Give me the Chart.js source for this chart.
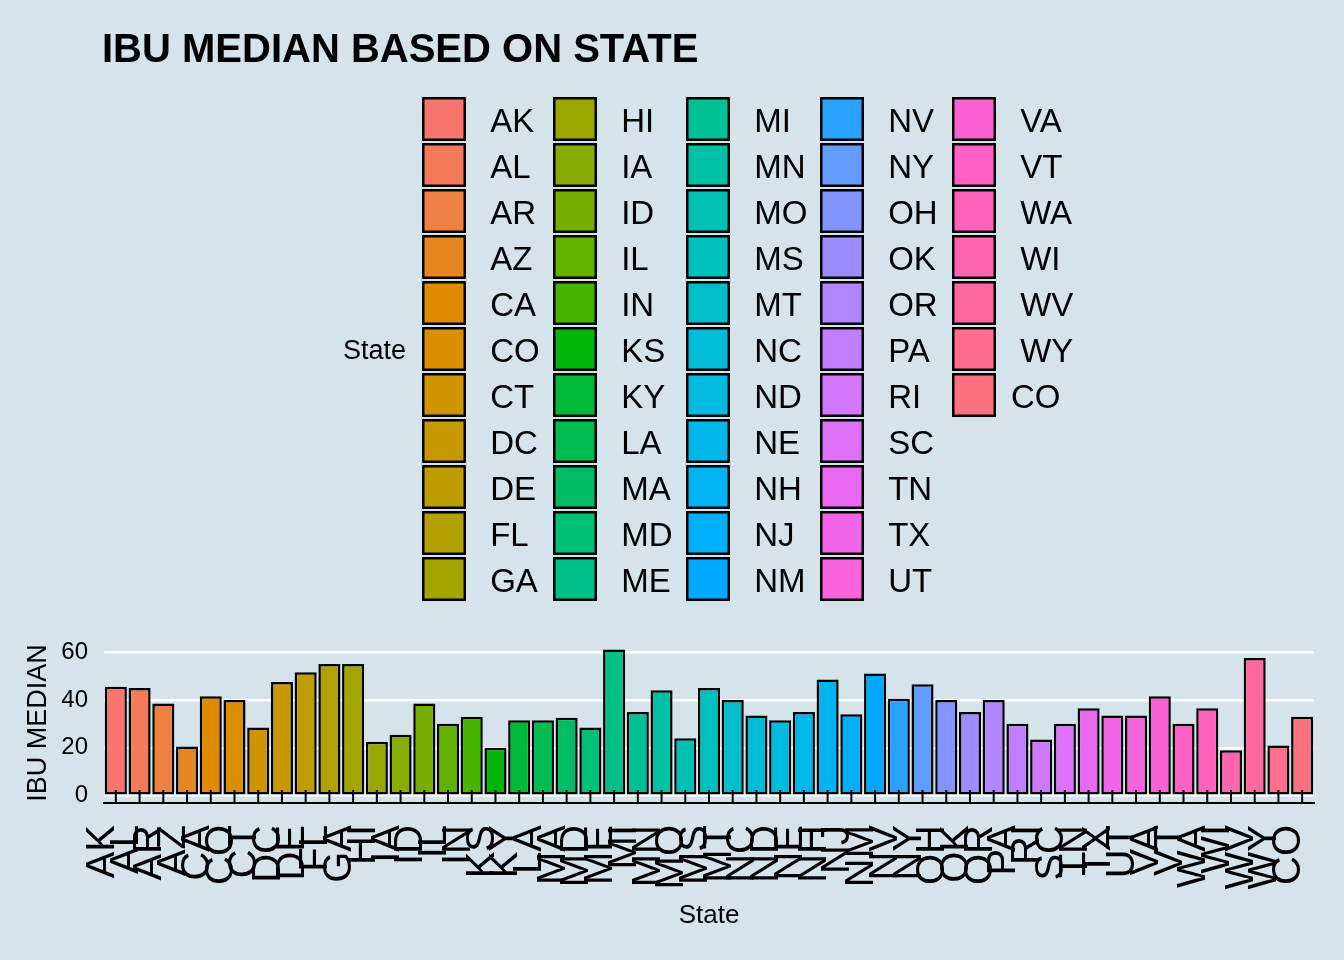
<!DOCTYPE html>
<html>
<head>
<meta charset="utf-8">
<script src="https://cdn.jsdelivr.net/npm/chart.js@4"></script>
<style>
  body { margin: 0; background: #d5e4eb; }
  canvas { display: block; }
</style>
</head>
<body>
<canvas id="ibuChart" width="1344" height="960"></canvas>
<script>
// states (the raw data has a leading space, the last "CO" does not)
const states = [" AK", " AL", " AR", " AZ", " CA", " CO", " CT", " DC", " DE", " FL", " GA",
  " HI", " IA", " ID", " IL", " IN", " KS", " KY", " LA", " MA", " MD", " ME",
  " MI", " MN", " MO", " MS", " MT", " NC", " ND", " NE", " NH", " NJ", " NM",
  " NV", " NY", " OH", " OK", " OR", " PA", " RI", " SC", " TN", " TX", " UT",
  " VA", " VT", " WA", " WI", " WV", " WY", "CO"];

const ibuMedian = [45.5, 45, 38.5, 20.5, 41.5, 40, 28.5, 47.5, 51.5, 55, 55,
  22.5, 25.5, 38.5, 30, 33, 20, 31.5, 31.5, 32.5, 28.5, 61,
  35, 44, 24, 45, 40, 33.5, 31.5, 35, 48.5, 34, 51,
  40.5, 46.5, 40, 35, 40, 30, 23.5, 30, 36.5, 33.5, 33.5,
  41.5, 30, 36.5, 19, 57.5, 21, 33];

const yTicks = [0, 20, 40, 60];

const bgColor = "#d5e4eb";
const fontFamily = "'Liberation Sans', Arial, sans-serif";

// ggplot default hue palette (hcl, c=100, l=65)
function hclToHex(h, c, l) {
  let hr = h * Math.PI / 180;
  let U = c * Math.cos(hr), V = c * Math.sin(hr);
  let WX = 95.047, WY = 100.0, WZ = 108.883;
  let Y = l > 7.999592 ? WY * Math.pow((l + 16) / 116, 3) : WY * l / 903.3;
  let t = WX + 15 * WY + 3 * WZ;
  let un = 4 * WX / t, vn = 9 * WY / t;
  let u = U / (13 * l) + un, v = V / (13 * l) + vn;
  let X = 9.0 * Y * u / (4 * v);
  let Z = -X / 3 - 5 * Y + 3 * Y / v;
  X /= 100; Y /= 100; Z /= 100;
  let rgb = [
    3.240479 * X - 1.537150 * Y - 0.498535 * Z,
    -0.969256 * X + 1.875992 * Y + 0.041556 * Z,
    0.055648 * X - 0.204043 * Y + 1.057311 * Z,
  ].map(function (x) {
    let g = x > 0.00304 ? 1.055 * Math.pow(x, 1 / 2.4) - 0.055 : 12.92 * x;
    g = Math.min(1, Math.max(0, g));
    return Math.round(g * 255).toString(16).padStart(2, "0");
  });
  return "#" + rgb.join("");
}

function huePal(n) {
  let cols = [];
  let h1 = 15, h2 = 375 - 360 / n;
  for (let i = 0; i < n; i++) {
    cols.push(hclToHex(h1 + (h2 - h1) * i / (n - 1), 100, 65));
  }
  return cols;
}

const barColors = huePal(states.length);

// title + legend drawn around the plot
const decorPlugin = {
  id: "decor",
  beforeDraw(chart) {
    let ctx = chart.ctx;
    ctx.save();
    ctx.fillStyle = bgColor;
    ctx.fillRect(0, 0, chart.width, chart.height);
    ctx.restore();
  },
  afterDraw(chart) {
    let ctx = chart.ctx;
    ctx.save();
    ctx.fillStyle = "#000";
    ctx.font = "bold 40px " + fontFamily;
    ctx.textBaseline = "alphabetic";
    ctx.textAlign = "left";
    ctx.fillText("IBU MEDIAN BASED ON STATE", 102, 62);

    // legend
    ctx.font = "27px " + fontFamily;
    ctx.textBaseline = "middle";
    ctx.fillText("State", 343, 352);

    let colX = [422, 553, 686, 820, 952];
    let keySize = 44;
    let rowH = 46;
    let top = 97;
    ctx.font = "33px " + fontFamily;
    states.forEach(function (s, i) {
      let col = Math.floor(i / 11);
      let row = i % 11;
      let x = colX[col];
      let y = top + row * rowH;
      ctx.fillStyle = barColors[i];
      ctx.fillRect(x, y, keySize, keySize);
      ctx.strokeStyle = "#000";
      ctx.lineWidth = 2.5;
      ctx.strokeRect(x + 1.25, y + 1.25, keySize - 2.5, keySize - 2.5);
      ctx.fillStyle = "#000";
      ctx.fillText(s, x + keySize + 15, y + keySize / 2 + 4);
    });
    ctx.restore();
  },
  afterDatasetsDraw(chart) {
    // inward tick marks on x axis
    let ctx = chart.ctx;
    let xs = chart.scales.x;
    let bottom = chart.chartArea.bottom;
    ctx.save();
    ctx.strokeStyle = "#000";
    ctx.lineWidth = 2;
    for (let i = 0; i < states.length; i++) {
      let px = xs.getPixelForTick(i);
      ctx.beginPath();
      ctx.moveTo(px, bottom);
      ctx.lineTo(px, bottom - 13);
      ctx.stroke();
    }
    ctx.restore();
  },
};

const data = {
  labels: states,
  datasets: [
    {
      label: "IBU MEDIAN",
      data: ibuMedian,
      backgroundColor: barColors,
      borderColor: "#000",
      borderWidth: 2.5,
      borderSkipped: false,
      barPercentage: 0.93,
      categoryPercentage: 1,
    },
  ],
};

const config = {
  type: "bar",
  data: data,
  plugins: [decorPlugin],
  options: {
    responsive: false,
    animation: false,
    layout: {
      padding: { top: 643, left: 0, right: 30, bottom: 0 },
    },
    plugins: {
      legend: { display: false },
      title: { display: false },
      tooltip: { enabled: false },
    },
    scales: {
      x: {
        grid: { display: false },
        border: { display: true, color: "#000", width: 2 },
        ticks: {
          autoSkip: false,
          minRotation: 90,
          maxRotation: 90,
          padding: 14,
          labelOffset: -13,
          color: "#000",
          font: { family: fontFamily, size: 40, lineHeight: 1 },
        },
        title: {
          display: true,
          text: "State",
          color: "#000",
          font: { family: fontFamily, size: 26 },
          padding: { top: 0, bottom: 29 },
        },
        afterFit: function (scale) {
          scale.height = 157;
          scale.paddingLeft = 0;
          scale.paddingRight = 0;
        },
      },
      y: {
        min: -3.03,
        max: 63.75,
        afterBuildTicks: function (scale) {
          scale.ticks = yTicks.map(function (v) {
            return { value: v };
          });
        },
        grid: { color: "#ffffff", lineWidth: 2.5, drawTicks: false },
        border: { display: false },
        ticks: {
          padding: 16,
          color: "#000",
          font: { family: fontFamily, size: 24 },
        },
        title: {
          display: true,
          text: "IBU MEDIAN",
          color: "#000",
          font: { family: fontFamily, size: 27 },
          padding: { top: 22, bottom: 0 },
        },
        afterFit: function (scale) {
          scale.width = 104;
          scale.paddingTop = 0;
          scale.paddingBottom = 0;
        },
      },
    },
  },
};

const myChart = new Chart(document.getElementById("ibuChart"), config);
</script>
</body>
</html>
